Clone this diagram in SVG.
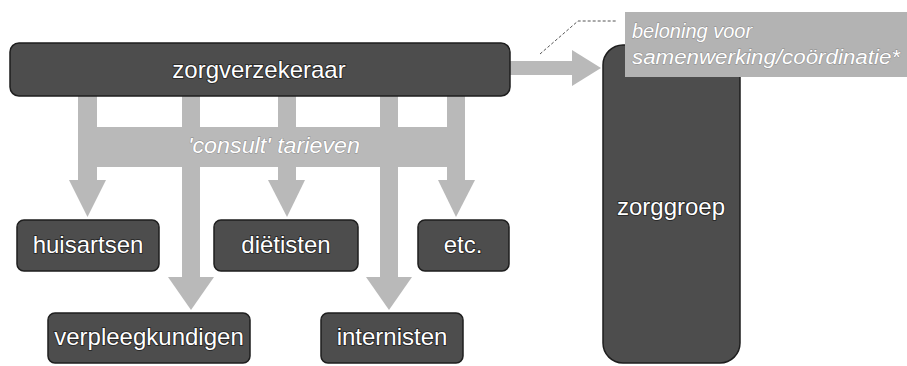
<svg xmlns="http://www.w3.org/2000/svg" width="907" height="366" viewBox="0 0 907 366">
<style>
.node{fill:#4d4d4d;stroke:#1e1e1e;stroke-width:1.5}
.lbl{font-family:"Liberation Sans",Arial,sans-serif;font-size:24px;fill:#ffffff;stroke:#222222;stroke-width:1.6;paint-order:stroke;text-anchor:middle}
.flow{fill:#b9b9b9}
.it{font-family:"Liberation Sans",Arial,sans-serif;font-style:italic;fill:#ffffff;stroke:#8a8a8a;stroke-width:0.8;paint-order:stroke}
</style>
<rect width="907" height="366" fill="#ffffff"/>
<g id="connectors">
  <g class="flow">
    <rect x="78" y="94" width="19" height="36"/>
    <rect x="182" y="94" width="18" height="36"/>
    <rect x="278" y="94" width="18" height="36"/>
    <rect x="380" y="94" width="18" height="36"/>
    <rect x="447" y="94" width="18" height="36"/>
    <rect x="78" y="127" width="387" height="40"/>
    <rect x="78" y="165" width="19" height="17"/>
    <polygon points="69,180 106,180 87.5,217"/>
    <rect x="278" y="165" width="18" height="17"/>
    <polygon points="268,180 305,180 287,217"/>
    <rect x="447" y="165" width="18" height="17"/>
    <polygon points="438,180 475,180 456,217"/>
    <rect x="182" y="165" width="18" height="114"/>
    <polygon points="168,277 214,277 191,310"/>
    <rect x="380" y="165" width="18" height="114"/>
    <polygon points="366,277 412,277 389,310"/>
    <rect x="508" y="61" width="66" height="14"/>
    <polygon points="572,50 572,86 601,68"/>
  </g>
  <polyline points="540,54 578,21 617,21" fill="none" stroke="#555" stroke-width="1" stroke-dasharray="3,2"/>
  <text class="it" x="274" y="153" font-size="22" text-anchor="middle" textLength="172" lengthAdjust="spacingAndGlyphs">'consult' tarieven</text>
</g>
<g id="zorgverzekeraar">
  <rect class="node" x="10" y="43" width="500" height="53" rx="9"/>
  <text class="lbl" x="259" y="78">zorgverzekeraar</text>
</g>
<g id="zorggroep">
  <rect class="node" x="603" y="45" width="137" height="318" rx="20"/>
  <text class="lbl" x="671" y="215">zorggroep</text>
</g>
<g id="beloning">
  <rect x="625" y="12" width="282" height="65" fill="#b3b3b3"/>
  <text class="it" x="632" y="38" font-size="20">beloning voor</text>
  <text class="it" x="632" y="64" font-size="20" textLength="268" lengthAdjust="spacingAndGlyphs">samenwerking/coördinatie*</text>
</g>
<g id="huisartsen">
  <rect class="node" x="17" y="220" width="142" height="51" rx="7"/>
  <text class="lbl" x="88" y="253">huisartsen</text>
</g>
<g id="dietisten">
  <rect class="node" x="214" y="220" width="144" height="51" rx="7"/>
  <text class="lbl" x="286" y="253">diëtisten</text>
</g>
<g id="etc">
  <rect class="node" x="418" y="220" width="91" height="51" rx="7"/>
  <text class="lbl" x="463" y="253">etc.</text>
</g>
<g id="verpleegkundigen">
  <rect class="node" x="48" y="313" width="202" height="50" rx="7"/>
  <text class="lbl" x="149" y="345">verpleegkundigen</text>
</g>
<g id="internisten">
  <rect class="node" x="321" y="313" width="142" height="50" rx="7"/>
  <text class="lbl" x="392" y="345">internisten</text>
</g>
</svg>
